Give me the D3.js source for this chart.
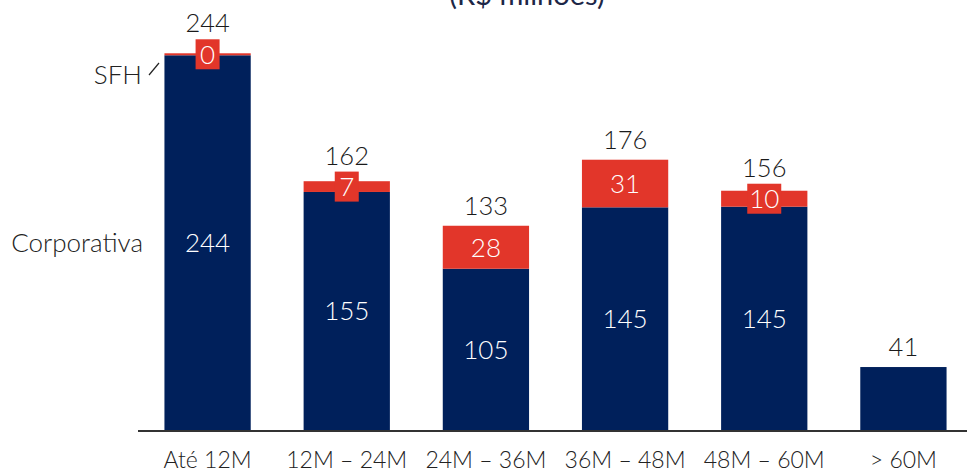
<!DOCTYPE html>
<html>
<head>
<meta charset="utf-8">
<script src="https://cdn.jsdelivr.net/npm/d3@7"></script>
<style>
  html, body { margin: 0; padding: 0; background: #fff; }
  svg { display: block; }
  text { font-family: Lato, "Open Sans", sans-serif; }
  .lite { font-weight: 300; }
</style>
</head>
<body>
<svg id="chart" width="967" height="471"></svg>
<script>
// Maturity buckets and outstanding balances (R$ milhões)
const categories = ["Até 12M", "12M – 24M", "24M – 36M", "36M – 48M", "48M – 60M", "> 60M"];
const corporativa = [244, 155, 105, 145, 145.4, 41];
const sfh = [0.4, 7, 28, 31, 10.4, null];
const seriesNames = ["Corporativa", "SFH"];
const seriesColors = ["#00205b", "#e2362a"];
const title = "(R$ milhões)";

const svg = d3.select("#chart");
const fmt = d3.format(".0f");

const rows = categories.map((c, i) => ({
  cat: c,
  Corporativa: corporativa[i],
  SFH: sfh[i] == null ? 0 : sfh[i],
  hasSfh: sfh[i] != null
}));

const x = d3.scaleBand()
  .domain(categories)
  .range([138, 973])
  .paddingInner(0.38)
  .paddingOuter(0.19);

const y = d3.scaleLinear().domain([0, 280]).range([430, 0]);

const layers = d3.stack().keys(seriesNames)(rows);

// title (sits partly above the top edge)
svg.append("text")
  .attr("x", 527).attr("y", 5)
  .attr("text-anchor", "middle")
  .attr("font-family", "'Open Sans', sans-serif")
  .attr("font-size", 29)
  .attr("fill", "#1d2747")
  .text(title);

// stacked bars
const g = svg.append("g");
layers.forEach((layer, li) => {
  g.selectAll(null)
    .data(layer.filter(d => li === 0 || d.data.hasSfh))
    .enter().append("rect")
    .attr("x", d => x(d.data.cat))
    .attr("width", x.bandwidth())
    .attr("y", d => {
      const h = y(d[0]) - y(d[1]);
      return h < 2 ? y(d[0]) - 2 : y(d[1]);
    })
    .attr("height", d => Math.max(2, y(d[0]) - y(d[1])))
    .attr("fill", seriesColors[li]);
});

// x axis baseline and category labels
const xAxis = d3.axisBottom(x).tickSize(0).tickPadding(21);
const ax = svg.append("g").attr("transform", "translate(0,431)").call(xAxis);
ax.select(".domain").remove();
ax.append("line")
  .attr("x1", 138).attr("x2", 967)
  .attr("stroke", "#333").attr("stroke-width", 2);
ax.selectAll(".tick text")
  .attr("class", "lite")
  .attr("font-size", 23)
  .attr("fill", "#222")
  .attr("dy", "0.71em");

// value labels inside the Corporativa segments
svg.append("g").selectAll("text")
  .data(layers[0].filter(d => d.data.hasSfh))
  .enter().append("text")
  .attr("class", "lite")
  .attr("x", d => x(d.data.cat) + x.bandwidth() / 2)
  .attr("y", d => (y(d[0]) + y(d[1])) / 2)
  .attr("dy", "0.36em")
  .attr("text-anchor", "middle")
  .attr("font-size", 26)
  .attr("fill", "#fff")
  .text(d => fmt(d[1] - d[0]));

// SFH labels; thin segments get a red tab centred on the segment
const sfhG = svg.append("g");
const tabTop = {};
layers[1].filter(d => d.data.hasSfh).forEach(d => {
  const cx = x(d.data.cat) + x.bandwidth() / 2;
  const h = y(d[0]) - y(d[1]);
  const cy = (y(d[0]) + Math.min(y(d[1]), y(d[0]) - 2)) / 2;
  const label = fmt(d[1] - d[0]);
  if (h < 30) {
    const w = label.length === 1 ? 24 : 34;
    const boxH = 30;
    sfhG.append("rect")
      .attr("x", cx - w / 2).attr("y", cy - boxH / 2)
      .attr("width", w).attr("height", boxH)
      .attr("fill", seriesColors[1]);
    tabTop[d.data.cat] = cy - boxH / 2;
  }
  sfhG.append("text")
    .attr("class", "lite")
    .attr("x", cx).attr("y", cy)
    .attr("dy", "0.36em")
    .attr("text-anchor", "middle")
    .attr("font-size", 26)
    .attr("fill", "#fff")
    .text(label);
});

// totals above each bar
svg.append("g").selectAll("text")
  .data(rows)
  .enter().append("text")
  .attr("class", "lite")
  .attr("x", d => x(d.cat) + x.bandwidth() / 2)
  .attr("y", d => d.cat in tabTop ? tabTop[d.cat] - 7 : y(d.Corporativa + d.SFH) - 11)
  .attr("text-anchor", "middle")
  .attr("font-size", 25.5)
  .attr("fill", "#1a1a1a")
  .text(d => fmt(d.Corporativa + d.SFH));

// series names on the left
svg.append("text")
  .attr("class", "lite")
  .attr("x", 143).attr("y", y(rows[0].Corporativa / 2))
  .attr("dy", "0.36em")
  .attr("text-anchor", "end")
  .attr("font-size", 26)
  .attr("fill", "#222")
  .text(seriesNames[0]);

svg.append("text")
  .attr("class", "lite")
  .attr("x", 142).attr("y", 75)
  .attr("dy", "0.36em")
  .attr("text-anchor", "end")
  .attr("font-size", 26)
  .attr("fill", "#222")
  .text(seriesNames[1]);

svg.append("line")
  .attr("x1", 149).attr("y1", 75)
  .attr("x2", 159).attr("y2", 63)
  .attr("stroke", "#222").attr("stroke-width", 1.2);
</script>
</body>
</html>
